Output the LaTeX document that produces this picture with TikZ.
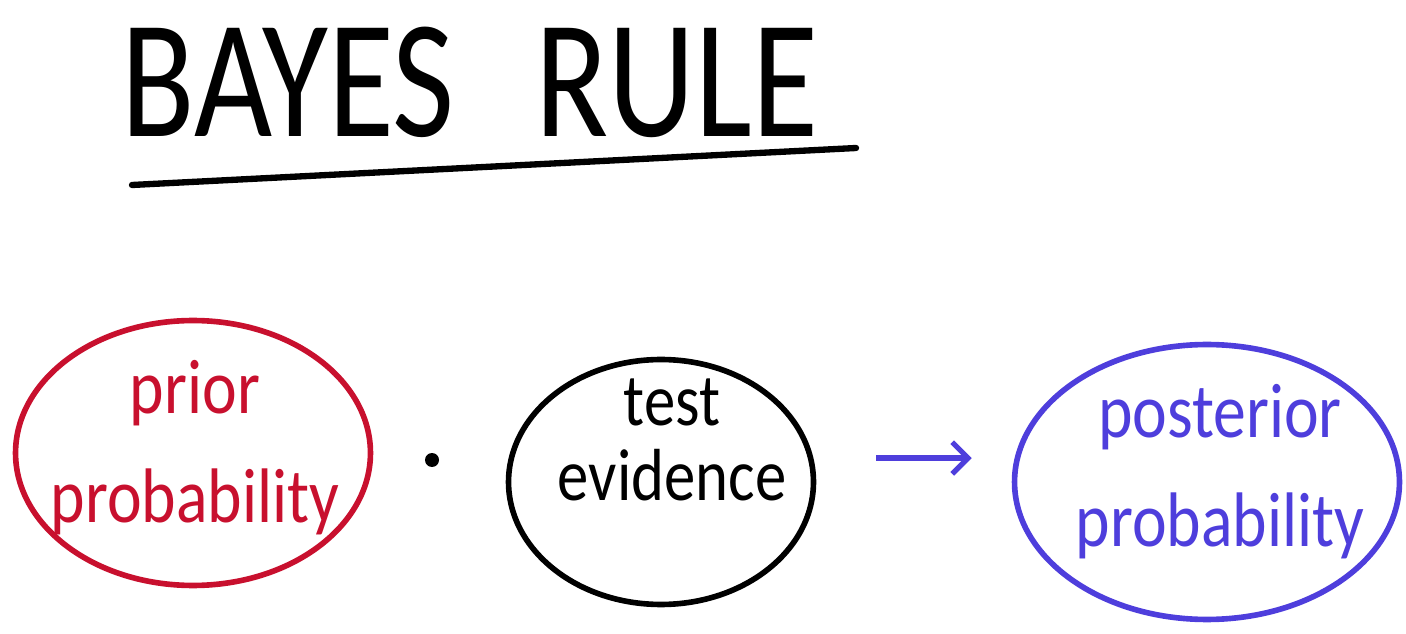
\documentclass[tikz,border=0pt]{standalone}
\usepackage{fontspec}
\setmainfont{Carlito}
\usetikzlibrary{arrows.meta,shapes.geometric}
\definecolor{penred}{RGB}{200,16,46}
\definecolor{penblue}{RGB}{78,62,220}

\begin{document}
\begin{tikzpicture}[
            x=0.02cm, y=-0.02cm,
            every node/.style={inner sep=0pt},
            bubble/.style={
              draw,
              ellipse,
              line width=3.2pt,
            },
            hand/.style={
              font=\fontsize{44}{62}\selectfont,
              xscale=0.85,
              align=center,
            },
            >={Straight Barb[length=9pt,width=18pt]},
          ]
          \useasboundingbox (0,0) rectangle (1406,634);
          \node[font=\fontsize{96}{100}\selectfont, xscale=0.8] (title) at (470,82) {BAYES\hspace{0.6em}RULE} ;
          \coordinate (ulstart) at (132,185) ;
          \coordinate (ulend) at (856,148) ;
          \draw[line width=3.6pt, line cap=round] (ulstart)--(ulend) ;
          \node[bubble, penred, minimum width=7.1cm, minimum height=5.3cm] (prior) at (193,453) {} ;
          \node[bubble, minimum width=6.1cm, minimum height=4.9cm] (evidence) at (661,482) {} ;
          \node[bubble, penblue, minimum width=7.7cm, minimum height=5.5cm] (posterior) at (1207,482) {} ;
          \node[hand, penred] (priortxt) at (195,448) {prior\\probability} ;
          \node[hand, font=\fontsize{42}{43}\selectfont] (evidencetxt) at (672,440) {test\\evidence} ;
          \node[hand, penblue] (posteriortxt) at (1220,472) {posterior\\probability} ;
          \node[fill, circle, minimum size=0.28cm] (dot) at (432,460) {} ;
          \draw[->, penblue, line width=3pt, shorten <=1.2cm, shorten >=0.8cm]
            ([yshift=0.48cm]evidence.east)--([yshift=0.48cm]posterior.west) ;
          \end{tikzpicture}
\end{document}
